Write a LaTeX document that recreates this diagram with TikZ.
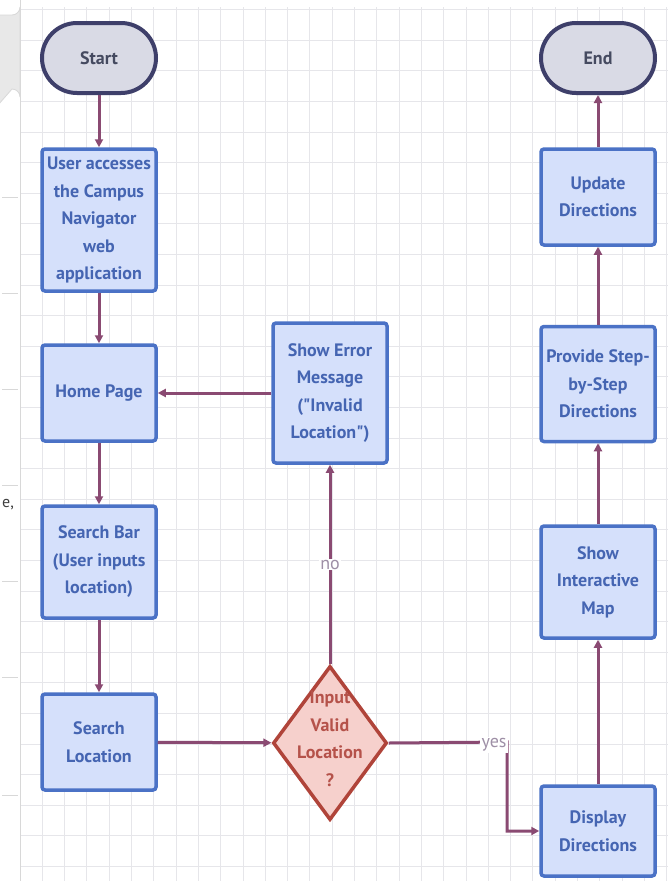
\documentclass[tikz,border=0pt]{standalone}
\usepackage{fontspec}
\setmainfont{PT Sans}
\usetikzlibrary{shapes.geometric,arrows.meta}
\definecolor{gridc}{HTML}{E6E6EA}
\definecolor{boxfill}{HTML}{D5E0FB}
\definecolor{boxborder}{HTML}{4B72C6}
\definecolor{boxtext}{HTML}{4565B2}
\definecolor{termfill}{HTML}{D9DAE5}
\definecolor{termborder}{HTML}{3E3F6A}
\definecolor{termtext}{HTML}{454A60}
\definecolor{decfill}{HTML}{F6D0CC}
\definecolor{decborder}{HTML}{B0443A}
\definecolor{dectext}{HTML}{B5524A}
\definecolor{arrowc}{HTML}{8A4A72}
\definecolor{lblc}{HTML}{9E8FA6}
\definecolor{tabfill}{HTML}{E8E8E8}
\definecolor{tabborder}{HTML}{D8D8D8}
\begin{document}
\begin{tikzpicture}[x=1pt,y=-1pt,
  boxnode/.style={draw=boxborder, fill=boxfill, line width=3.5pt, rounded corners=3pt,
    minimum width=114pt, text=boxtext, font=\bfseries\fontsize{18}{27.5}\selectfont,
    align=center, inner sep=0pt},
  termnode/.style={draw=termborder, fill=termfill, line width=4pt, rounded corners=35pt,
    minimum width=114pt, minimum height=70pt, text=termtext,
    font=\bfseries\fontsize{18}{27}\selectfont, inner sep=0pt},
  decnode/.style={diamond, draw=decborder, fill=decfill, line width=3.5pt,
    minimum width=114pt, minimum height=154pt, inner sep=0pt},
  dectxt/.style={text=dectext, font=\bfseries\fontsize{18}{27.5}\selectfont, align=center, inner sep=0pt},
  conn/.style={draw=arrowc, line width=3pt, -{Triangle[length=8pt,width=8pt]}},
  lbl/.style={fill=white, text=lblc, font=\fontsize{18}{20}\selectfont, inner sep=1pt}]
\useasboundingbox (0,0) rectangle (668,881);
\fill[white] (0,0) rectangle (668,881);
% grid
\foreach \i in {0,...,29} \draw[gridc, line width=1pt] ({20+22.3*\i},7) -- ({20+22.3*\i},881);
\foreach \j in {0,...,28} \draw[gridc, line width=1pt] (20,{9.6+30.6*\j}) -- (668,{9.6+30.6*\j});
% left margin artifacts
\draw[tabborder, line width=1pt] (20,0) -- (20,881);
\foreach \y in {197,293,389,485,581,677,795} \draw[tabborder, line width=1pt] (2,\y) -- (18,\y);
\filldraw[fill=tabfill, draw=tabborder, line width=0.8pt] (-2,15) -- (12,15) arc[start angle=90, end angle=0, radius=8] -- (20,97) arc[start angle=0, end angle=-90, radius=8] -- (-2,105) -- cycle;
\node[text=black!75, font=\fontsize{16}{18}\selectfont, inner sep=0pt] (etxt) at (8,505) {e,};
% nodes
\node[termnode] (start) at (99,58) {Start};
\node[termnode] (end) at (598,58) {End};
\node[boxnode, minimum height=142pt] (access) at (99,220) {User accesses\\the Campus\\Navigator\\web\\application};
\node[boxnode, minimum height=96pt] (home) at (99,393) {Home Page};
\node[boxnode, minimum height=112pt] (sbar) at (99,562) {Search Bar\\(User inputs\\location)};
\node[boxnode, minimum height=96pt] (sloc) at (99,742) {Search\\Location};
\node[boxnode, minimum height=140pt] (err) at (330,393) {Show Error\\Message\\(\textquotedbl Invalid\\Location\textquotedbl)};
\node[decnode] (dec) at (330,743) {};
\node[dectxt] (dect) at (330,739) {Input\\Valid\\Location\\?};
\node[boxnode, minimum height=90pt] (disp) at (598,831) {Display\\Directions};
\node[boxnode, minimum height=112pt] (map) at (598,582) {Show\\Interactive\\Map};
\node[boxnode, minimum height=115pt] (prov) at (598,384) {Provide Step-\\by-Step\\Directions};
\node[boxnode, minimum height=96pt] (upd) at (598,197) {Update\\Directions};
% connectors
\draw[conn] (start) -- (access);
\draw[conn] (access) -- (home);
\draw[conn] (home) -- (sbar);
\draw[conn] (sbar) -- (sloc);
\draw[conn] (sloc) -- (dec);
\draw[conn] (dec.north) -- (err.south) node[lbl, pos=0.5] {no};
\draw[conn] (err) -- (home);
\coordinate (yc) at (507,742);
\draw[conn] (dec.east) -- (yc) |- (disp.west);
\node[lbl, inner sep=2pt] (yes) at (494,745) {yes};
\draw[conn] (disp) -- (map);
\draw[conn] (map) -- (prov);
\draw[conn] (prov) -- (upd);
\draw[conn] (upd) -- (end);
\end{tikzpicture}
\end{document}
